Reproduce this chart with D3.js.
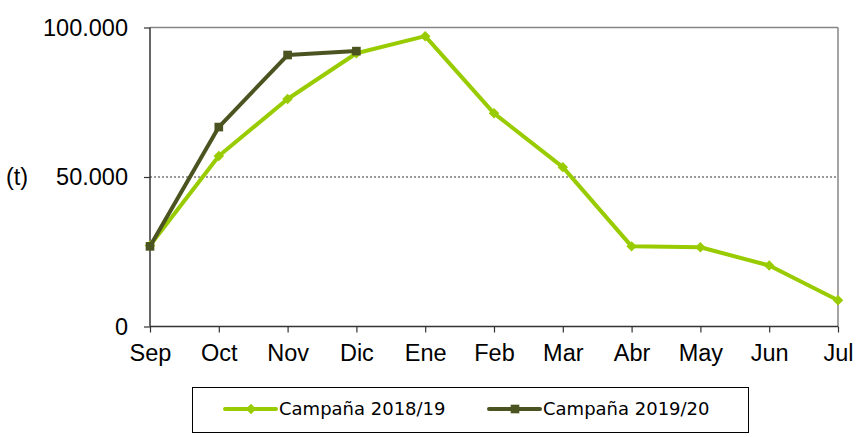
<!DOCTYPE html>
<html>
<head>
<meta charset="utf-8">
<script src="https://cdn.jsdelivr.net/npm/d3@7"></script>
<style>
  body { margin: 0; background: #fff; }
  svg { display: block; }
</style>
</head>
<body>
<div id="vis"></div>
<script>
// data
var months = ["Sep", "Oct", "Nov", "Dic", "Ene", "Feb", "Mar", "Abr", "May", "Jun", "Jul"];
var campana1819 = [27100, 57000, 76100, 91400, 97100, 71300, 53300, 26800, 26500, 20400, 8800];
var campana1920 = [26800, 66700, 90800, 92100];
var yTicks = [0, 50000, 100000];
var seriesNames = ["Campaña 2018/19", "Campaña 2019/20"];

var width = 865, height = 437;
var margin = {top: 27.5, right: 27, bottom: 110.5, left: 150};
var innerW = width - margin.left - margin.right,
    innerH = height - margin.top - margin.bottom;

var svg = d3.select("#vis").append("svg")
    .attr("width", width)
    .attr("height", height);

var g = svg.append("g")
    .attr("transform", "translate(" + margin.left + "," + margin.top + ")");

var x = d3.scalePoint()
    .domain(months)
    .range([0, innerW]);

var y = d3.scaleLinear()
    .domain([0, 100000])
    .range([innerH, 0]);

var fmt = function(d) { return d3.format(",")(d).replace(/,/g, "."); };

// grey frame top / right
g.append("line")
    .attr("x1", 0).attr("x2", innerW)
    .attr("y1", y(100000)).attr("y2", y(100000))
    .attr("stroke", "#868686").attr("stroke-width", 1.5);
g.append("line")
    .attr("x1", innerW).attr("x2", innerW)
    .attr("y1", 0).attr("y2", innerH)
    .attr("stroke", "#868686").attr("stroke-width", 1.5);

// dotted gridline at 50.000
g.append("line")
    .attr("x1", 0).attr("x2", innerW)
    .attr("y1", y(50000)).attr("y2", y(50000))
    .attr("stroke", "#000").attr("stroke-width", 0.8)
    .attr("stroke-dasharray", "2,2");

// axes
var yAxis = g.append("g")
    .call(d3.axisLeft(y).tickValues(yTicks).tickFormat(fmt).tickSize(6).tickPadding(16));
var xAxis = g.append("g")
    .attr("transform", "translate(0," + innerH + ")")
    .call(d3.axisBottom(x).tickSize(6).tickPadding(12));

[yAxis, xAxis].forEach(function(a) {
  a.select(".domain").attr("stroke", "#333").attr("stroke-width", 1.5);
  a.selectAll(".tick line").attr("stroke", "#333").attr("stroke-width", 1.2);
  a.selectAll(".tick text")
    .attr("fill", "#000")
    .style("font-family", "'Liberation Sans', Arial, sans-serif")
    .style("font-size", "23.5px");
});
xAxis.select(".domain").attr("d", "M0,0H" + innerW);
yAxis.select(".domain").attr("d", "M0," + innerH + "V0");

svg.append("text")
    .attr("x", 6)
    .attr("y", y(50000) + margin.top)
    .attr("dy", "0.32em")
    .style("font-family", "'Liberation Sans', Arial, sans-serif")
    .style("font-size", "23.5px")
    .text("(t)");

var colors = ["#99cc00", "#4b5320"];

var line = d3.line()
    .x(function(d, i) { return x(months[i]); })
    .y(function(d) { return y(d); });

var diamond = d3.symbol().type(d3.symbolDiamond2).size(70);
var square = d3.symbol().type(d3.symbolSquare2).size(95);

// 2018/19
g.append("path")
    .datum(campana1819)
    .attr("fill", "none")
    .attr("stroke", colors[0])
    .attr("stroke-width", 4)
    .attr("stroke-linejoin", "round")
    .attr("d", line);
g.selectAll(".m1").data(campana1819).enter().append("path")
    .attr("class", "m1")
    .attr("transform", function(d, i) { return "translate(" + x(months[i]) + "," + y(d) + ")"; })
    .attr("d", diamond)
    .attr("fill", colors[0]);

// 2019/20
g.append("path")
    .datum(campana1920)
    .attr("fill", "none")
    .attr("stroke", colors[1])
    .attr("stroke-width", 4)
    .attr("stroke-linejoin", "round")
    .attr("d", line);
g.selectAll(".m2").data(campana1920).enter().append("path")
    .attr("class", "m2")
    .attr("transform", function(d, i) { return "translate(" + x(months[i]) + "," + y(d) + ")"; })
    .attr("d", square)
    .attr("fill", colors[1]);

// legend
var legend = svg.append("g");
legend.append("rect")
    .attr("x", 192.5).attr("y", 387.5)
    .attr("width", 556).attr("height", 45)
    .attr("fill", "#fff")
    .attr("stroke", "#000").attr("stroke-width", 1);

var items = legend.selectAll(".item")
    .data(seriesNames)
    .enter().append("g")
    .attr("class", "item")
    .attr("transform", function(d, i) { return "translate(" + (225 + i * 264) + ",409)"; });

items.append("line")
    .attr("x1", 0).attr("x2", 51)
    .attr("stroke", function(d, i) { return colors[i]; })
    .attr("stroke-width", 4)
    .attr("stroke-linecap", "round");
items.append("path")
    .attr("transform", "translate(26,0)")
    .attr("d", function(d, i) { return i === 0 ? diamond() : square(); })
    .attr("fill", function(d, i) { return colors[i]; });
items.append("text")
    .attr("x", 54)
    .attr("dy", "0.36em")
    .style("font-family", "'DejaVu Sans', sans-serif")
    .style("font-size", "18px")
    .text(function(d) { return d; });
</script>
</body>
</html>
